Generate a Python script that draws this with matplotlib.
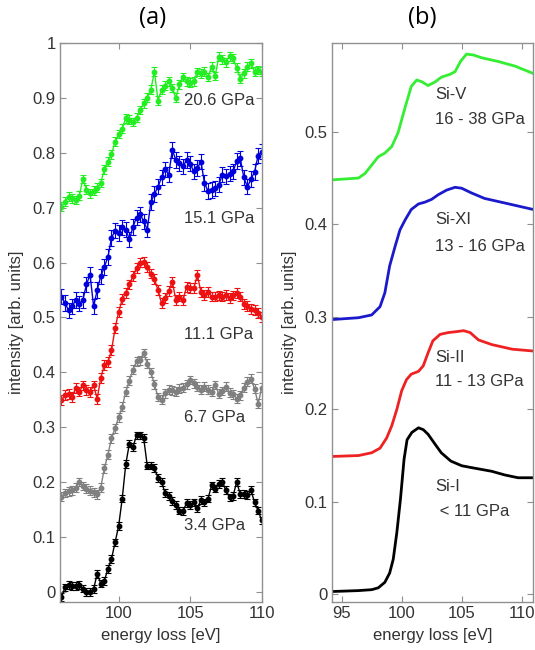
import numpy as np
import matplotlib
matplotlib.use('Agg')
from matplotlib import pyplot as plt
from matplotlib.ticker import FuncFormatter

plt.rcParams['font.family'] = ['Liberation Sans', 'DejaVu Sans']

# (a) measured spectra, 0.25 eV steps
energy = np.arange(96.0, 110.01, 0.25)

p34 = [-0.01, 0.008, 0.012, 0.01, 0.01, 0.012, 0.006, 0.0, 0.0, 0.005,
       0.033, 0.015, 0.02, 0.042, 0.06, 0.09, 0.12, 0.17, 0.233, 0.27,
       0.264, 0.285, 0.285, 0.28, 0.23, 0.23, 0.225, 0.208, 0.2, 0.18,
       0.175, 0.165, 0.158, 0.148, 0.147, 0.162, 0.158, 0.163, 0.152, 0.167,
       0.163, 0.17, 0.194, 0.188, 0.197, 0.2, 0.185, 0.172, 0.175, 0.2,
       0.178, 0.178, 0.176, 0.185, 0.163, 0.148, 0.13]
p67 = [0.173, 0.18, 0.183, 0.185, 0.19, 0.2, 0.193, 0.188, 0.184, 0.181,
       0.178, 0.19, 0.225, 0.25, 0.28, 0.298, 0.318, 0.337, 0.365, 0.385,
       0.405, 0.42, 0.422, 0.435, 0.416, 0.4, 0.378, 0.355, 0.35, 0.362,
       0.368, 0.367, 0.365, 0.37, 0.372, 0.378, 0.386, 0.38, 0.374, 0.368,
       0.374, 0.368, 0.365, 0.377, 0.361, 0.366, 0.374, 0.363, 0.36, 0.352,
       0.358, 0.372, 0.383, 0.388, 0.37, 0.343, 0.372]
p111 = [0.35, 0.358, 0.361, 0.355, 0.372, 0.365, 0.376, 0.368, 0.364, 0.376,
        0.352, 0.39, 0.413, 0.418, 0.44, 0.48, 0.51, 0.533, 0.545, 0.56,
        0.575, 0.59, 0.6, 0.601, 0.592, 0.58, 0.57, 0.55, 0.526, 0.535,
        0.548, 0.565, 0.532, 0.538, 0.532, 0.556, 0.553, 0.553, 0.577, 0.547,
        0.541, 0.547, 0.538, 0.538, 0.54, 0.538, 0.541, 0.535, 0.54, 0.545,
        0.538, 0.525, 0.52, 0.516, 0.513, 0.508, 0.5]
p151 = [0.538, 0.526, 0.513, 0.52, 0.532, 0.525, 0.532, 0.56, 0.578, 0.52,
        0.55, 0.575, 0.592, 0.61, 0.645, 0.658, 0.654, 0.664, 0.66, 0.642,
        0.665, 0.682, 0.688, 0.675, 0.66, 0.71, 0.725, 0.738, 0.755, 0.77,
        0.76, 0.805, 0.787, 0.781, 0.775, 0.787, 0.78, 0.766, 0.772, 0.784,
        0.745, 0.73, 0.732, 0.735, 0.742, 0.76, 0.757, 0.762, 0.766, 0.785,
        0.79, 0.755, 0.738, 0.752, 0.765, 0.795, 0.802]
p206 = [0.702, 0.711, 0.72, 0.717, 0.714, 0.722, 0.752, 0.733, 0.726, 0.731,
        0.736, 0.745, 0.77, 0.784, 0.797, 0.82, 0.834, 0.844, 0.863, 0.86,
        0.856, 0.864, 0.878, 0.89, 0.9, 0.915, 0.948, 0.895, 0.915, 0.922,
        0.93, 0.918, 0.9, 0.925, 0.938, 0.93, 0.928, 0.93, 0.947, 0.945,
        0.948, 0.938, 0.957, 0.94, 0.975, 0.97, 0.965, 0.976, 0.972, 0.955,
        0.935, 0.945, 0.957, 0.963, 0.948, 0.951, 0.948]
errs = [0.007, 0.008, 0.009, 0.014, 0.008]
labels_a = ['3.4 GPa', '6.7 GPa', '11.1 GPa', '15.1 GPa', '20.6 GPa']
label_ya = [0.12, 0.317, 0.468, 0.681, 0.896]

# (b) calculated spectra
x_si1 = [94.17, 96.4, 97.5, 98.05, 98.6, 99.0, 99.3, 99.6, 99.9, 100.2, 100.45, 100.85,
         101.4, 101.8, 102.2, 102.8, 103.3, 104.1, 105.0, 105.8, 106.65, 107.5, 108.6, 109.7, 110.97]
y_si1 = [0.003, 0.004, 0.005, 0.007, 0.013, 0.023, 0.038, 0.067, 0.103, 0.146, 0.167, 0.175,
         0.18, 0.178, 0.173, 0.162, 0.153, 0.144, 0.139, 0.137, 0.135, 0.133, 0.129, 0.126, 0.126]
x_si2 = [94.17, 96.4, 97.5, 98.2, 98.75, 99.17, 99.6, 100.0, 100.4, 100.8, 101.4, 101.8,
         102.2, 102.6, 103.2, 103.9, 104.6, 105.15, 105.7, 106.4, 107.5, 109.2, 110.97]
y_si2 = [0.149, 0.15, 0.153, 0.158, 0.169, 0.182, 0.2, 0.22, 0.232, 0.238, 0.241, 0.247,
         0.261, 0.274, 0.281, 0.283, 0.284, 0.285, 0.283, 0.275, 0.27, 0.265, 0.263]
x_si11 = [94.17, 96.4, 97.5, 98.2, 98.6, 99.0, 99.45, 99.86, 100.3, 100.8, 101.4, 101.95,
          102.5, 103.05, 103.75, 104.45, 105.0, 105.8, 106.9, 108.6, 110.97]
y_si11 = [0.297, 0.299, 0.302, 0.311, 0.326, 0.355, 0.376, 0.394, 0.405, 0.416, 0.422, 0.424,
          0.427, 0.432, 0.437, 0.44, 0.439, 0.434, 0.428, 0.423, 0.416]
x_si5 = [94.17, 96.4, 96.95, 97.5, 98.05, 98.6, 99.17, 99.7, 100.3, 100.8, 101.25, 101.7,
         102.2, 102.8, 103.3, 104.0, 104.45, 104.9, 105.4, 106.0, 106.67, 108.05, 109.45, 110.97]
y_si5 = [0.448, 0.45, 0.455, 0.464, 0.473, 0.477, 0.484, 0.499, 0.527, 0.549, 0.556, 0.554,
         0.55, 0.554, 0.559, 0.562, 0.565, 0.576, 0.584, 0.583, 0.58, 0.576, 0.571, 0.563]
labels_b = [('Si-I', ' < 11 GPa'), ('Si-II', '11 - 13 GPa'),
            ('Si-XI', '13 - 16 GPa'), ('Si-V', '16 - 38 GPa')]
label_yb = [(0.117, 0.09), (0.256, 0.23), (0.405, 0.376), (0.54, 0.513)]

cols_a = ['black', '#808080', '#ee1111', '#0000dd', '#22ee22']
cols_b = ['black', '#ee2222', '#1a1acc', '#33ee33']

fig = plt.figure(figsize=(5.35, 6.5), dpi=100)
W, H = 535., 650.
ax1 = fig.add_axes([60 / W, 1 - 601.7 / H, 201.7 / W, 558.7 / H])
ax2 = fig.add_axes([331.7 / W, 1 - 601.7 / H, 201.6 / W, 558.7 / H])

fmt = FuncFormatter(lambda v, p: '%g' % round(v, 2))

for ax in (ax1, ax2):
    for s in ax.spines.values():
        s.set_color('#909090')
        s.set_linewidth(1)
    ax.tick_params(direction='in', top=True, right=True, length=4, width=0.8,
                   color='#909090', labelsize=12, labelcolor='#333333', pad=3)
    ax.yaxis.set_major_formatter(fmt)
    ax.set_xlabel('energy loss [eV]', fontsize=12, color='#333333')
    ax.set_ylabel('intensity [arb. units]', fontsize=12, color='#333333')
    ax.xaxis.set_label_coords(0.5, -0.047)

ax1.yaxis.set_label_coords(-0.178, 0.5)
ax2.yaxis.set_label_coords(-0.17, 0.5)

series = [p34, p67, p111, p151, p206]
for y, e, c, lab, ly in zip(series, errs, cols_a, labels_a, label_ya):
    ax1.errorbar(energy, y, yerr=e, fmt='-o', color=c, ms=3.2, lw=1,
                 elinewidth=0.8, capsize=2, capthick=0.8)
    ax1.text(104.55, ly, lab, fontsize=12, color='#333333', va='center')
ax1.set_xlim(95.9, 110)
ax1.set_ylim(-0.018, 1.0)
ax1.set_xticks([100, 105, 110])
ax1.set_yticks(np.arange(0, 1.01, 0.1))
ax1.text(0.46, 1.045, '(a)', transform=ax1.transAxes, ha='center', va='center',
         fontsize=17, family=['Open Sans', 'DejaVu Sans'])

curves = [(x_si1, y_si1), (x_si2, y_si2), (x_si11, y_si11), (x_si5, y_si5)]
for (x, y), c, (l1, l2), (y1, y2) in zip(curves, cols_b, labels_b, label_yb):
    ax2.plot(x, y, color=c, lw=2)
    ax2.text(102.8, y1, l1, fontsize=12, color='#333333', va='center')
    ax2.text(102.8, y2, l2, fontsize=12, color='#333333', va='center')
ax2.set_xlim(94.17, 110.97)
ax2.set_ylim(-0.008, 0.596)
ax2.set_xticks([95, 100, 105, 110])
ax2.set_yticks(np.arange(0, 0.51, 0.1))
ax2.text(0.45, 1.045, '(b)', transform=ax2.transAxes, ha='center', va='center',
         fontsize=17, family=['Open Sans', 'DejaVu Sans'])

fig.savefig('out.png', dpi=100)
